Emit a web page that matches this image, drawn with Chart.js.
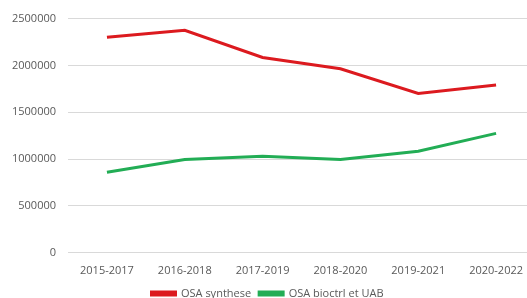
<!DOCTYPE html>
<html>
<head>
<meta charset="utf-8">
<script src="https://cdn.jsdelivr.net/npm/chart.js@4"></script>
<style>
  html, body { margin: 0; padding: 0; background: #fff; overflow: hidden; }
  #wrap { width: 535px; height: 309px; }
</style>
</head>
<body>
<div id="wrap"><canvas id="chart"></canvas></div>
<script>
var periods = ['2015-2017', '2016-2018', '2017-2019', '2018-2020', '2019-2021', '2020-2022'];
var synthese = [2300000, 2375000, 2085000, 1965000, 1700000, 1790000];
var bioctrl = [860000, 995000, 1030000, 995000, 1085000, 1275000];

Chart.defaults.font.family = "'Open Sans', sans-serif";
Chart.defaults.font.size = 11;
Chart.defaults.color = '#595959';

new Chart(document.getElementById('chart'), {
    type: 'line',
    data: {
        labels: periods,
        datasets: [{
            label: 'OSA synthese',
            data: synthese,
            borderColor: '#dc1a1f',
            backgroundColor: '#dc1a1f',
            borderWidth: 3,
            pointRadius: 0,
            tension: 0
        }, {
            label: 'OSA bioctrl et UAB',
            data: bioctrl,
            borderColor: '#22ad55',
            backgroundColor: '#22ad55',
            borderWidth: 3,
            pointRadius: 0,
            tension: 0
        }]
    },
    options: {
        responsive: true,
        maintainAspectRatio: false,
        animation: false,
        layout: { padding: { left: 0, right: 0, top: 12, bottom: 0 } },
        plugins: {
            tooltip: { enabled: false },
            legend: {
                position: 'bottom',
                labels: {
                    boxWidth: 24,
                    boxHeight: 3,
                    padding: 8
                }
            }
        },
        scales: {
            x: {
                offset: true,
                grid: { display: false },
                border: { display: false },
                ticks: { padding: 3, maxRotation: 0 }
            },
            y: {
                min: 0,
                max: 2500000,
                ticks: {
                    stepSize: 500000,
                    padding: 12,
                    callback: function(v) { return String(v); }
                },
                grid: { color: '#d9d9d9', drawTicks: false, lineWidth: 1 },
                border: { display: false }
            }
        }
    }
});
</script>
</body>
</html>
